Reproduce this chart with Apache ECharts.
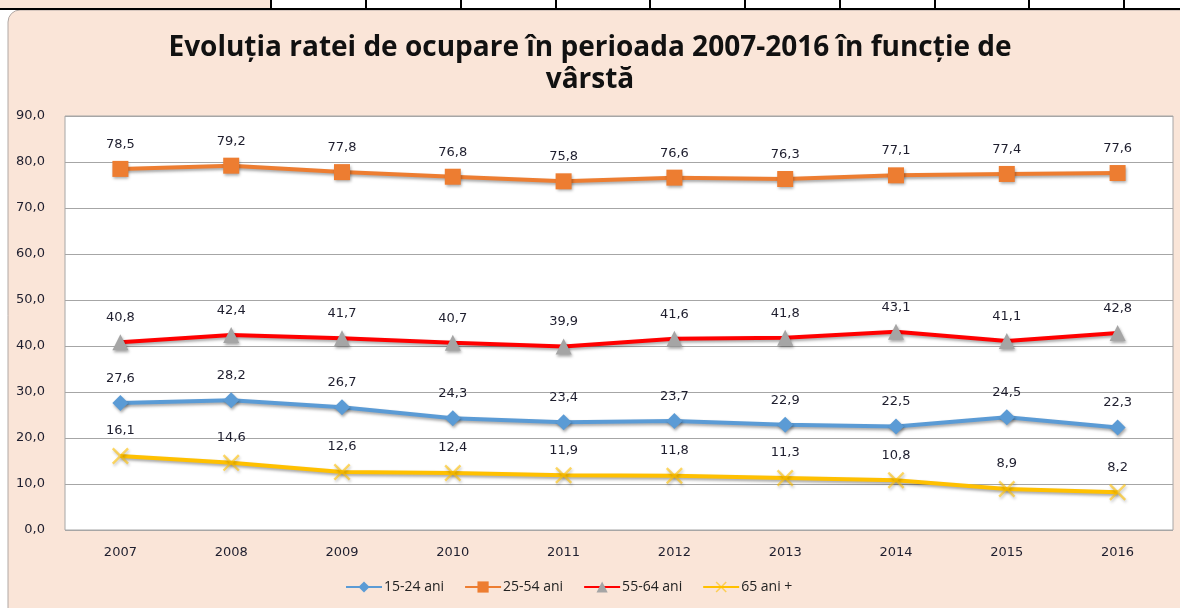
<!DOCTYPE html>
<html>
<head>
<meta charset="utf-8">
<script src="https://cdn.jsdelivr.net/npm/echarts@6/dist/echarts.min.js"></script>
<style>
  html, body { margin: 0; padding: 0; background: #fff; }
  #chart { width: 1180px; height: 608px; }
</style>
</head>
<body>
<div id="chart"></div>
<script>
const years = ['2007', '2008', '2009', '2010', '2011', '2012', '2013', '2014', '2015', '2016'];
const ani15_24 = [27.6, 28.2, 26.7, 24.3, 23.4, 23.7, 22.9, 22.5, 24.5, 22.3];
const ani25_54 = [78.5, 79.2, 77.8, 76.8, 75.8, 76.6, 76.3, 77.1, 77.4, 77.6];
const ani55_64 = [40.8, 42.4, 41.7, 40.7, 39.9, 41.6, 41.8, 43.1, 41.1, 42.8];
const ani65plus = [16.1, 14.6, 12.6, 12.4, 11.9, 11.8, 11.3, 10.8, 8.9, 8.2];

const titleFont = '"Open Sans", sans-serif';
const numFont = '"DejaVu Sans", Verdana, sans-serif';
const legendFont = '"Open Sans", sans-serif';
const fmt = (v) => v.toFixed(1).replace('.', ',');

// thin "x" marker like Excel's
const xSymbol = 'path://M0,1L1,0L10,9L9,10Z M9,0L10,1L1,10L0,9Z';

const chart = echarts.init(document.getElementById('chart'));

const shadow = {
  shadowBlur: 3,
  shadowColor: 'rgba(0,0,0,0.35)',
  shadowOffsetX: 1,
  shadowOffsetY: 2
};

function makeSeries(name, data, color, symbol, size, markerColor) {
  return {
    name: name,
    type: 'line',
    data: data,
    symbol: symbol,
    symbolSize: size,
    lineStyle: Object.assign({ color: color, width: 4 }, shadow),
    itemStyle: Object.assign({ color: markerColor || color }, shadow),
    label: {
      show: true,
      position: 'top',
      distance: 10,
      formatter: (p) => fmt(p.value),
      fontFamily: numFont,
      fontSize: 13,
      color: '#1e1e2e'
    },
    emphasis: { disabled: true },
    animation: false
  };
}

// spreadsheet cell lines above the chart
const cellLines = [271, 366, 461, 556, 650, 745, 840, 935, 1029, 1124];
const topGraphics = [
  { type: 'rect', shape: { x: 0, y: 0, width: 271, height: 9 }, style: { fill: '#fae5d8' }, z: -10 },
  { type: 'line', shape: { x1: 0, y1: 9, x2: 1180, y2: 9 }, style: { stroke: '#000', lineWidth: 2 }, z: -9 },
  {
    type: 'rect',
    shape: { x: 8, y: 10, width: 1180, height: 610, r: [12, 0, 0, 0] },
    style: { fill: '#fae5d8', stroke: '#b0a8a4', lineWidth: 1 },
    z: -10
  }
].concat(cellLines.map(x => ({
  type: 'line', shape: { x1: x, y1: 0, x2: x, y2: 9 }, style: { stroke: '#000', lineWidth: 2 }, z: -9
})));

const option = {
  backgroundColor: '#fff',
  title: {
    text: 'Evoluția ratei de ocupare în perioada 2007-2016 în funcție de\nvârstă',
    left: 'center',
    top: 27,
    textStyle: {
      fontFamily: titleFont,
      fontSize: 28,
      fontWeight: 'bold',
      color: '#111',
      lineHeight: 32
    }
  },
  graphic: topGraphics,
  grid: {
    left: 65,
    right: 7,
    top: 116,
    bottom: 78,
    show: true,
    backgroundColor: '#fff',
    borderColor: '#a6a6a6',
    borderWidth: 1
  },
  legend: {
    bottom: 9,
    left: 340,
    itemWidth: 36,
    itemHeight: 14,
    itemGap: 20,
    textStyle: { fontFamily: legendFont, fontSize: 14, color: '#222', padding: [0, 0, 0, -3] },
    data: ['15-24 ani', '25-54 ani', '55-64 ani', '65 ani +']
  },
  xAxis: {
    type: 'category',
    data: years,
    boundaryGap: true,
    axisLine: { show: false },
    axisTick: { show: false },
    axisLabel: { fontFamily: numFont, fontSize: 13, color: '#1e1e2e', margin: 16 }
  },
  yAxis: {
    type: 'value',
    min: 0,
    max: 90,
    interval: 10,
    axisLine: { show: false },
    axisTick: { show: false },
    axisLabel: { fontFamily: numFont, fontSize: 13, color: '#1e1e2e', margin: 20, formatter: fmt },
    splitLine: { lineStyle: { color: '#a6a6a6', width: 1 } }
  },
  series: [
    makeSeries('15-24 ani', ani15_24, '#5b9bd5', 'diamond', 16),
    makeSeries('25-54 ani', ani25_54, '#ed7d31', 'rect', 16),
    makeSeries('55-64 ani', ani55_64, '#ff0000', 'triangle', 16, '#a5a5a5'),
    makeSeries('65 ani +', ani65plus, '#ffc000', xSymbol, 17, 'rgba(255,192,0,0.6)')
  ]
};

chart.setOption(option);
</script>
</body>
</html>
